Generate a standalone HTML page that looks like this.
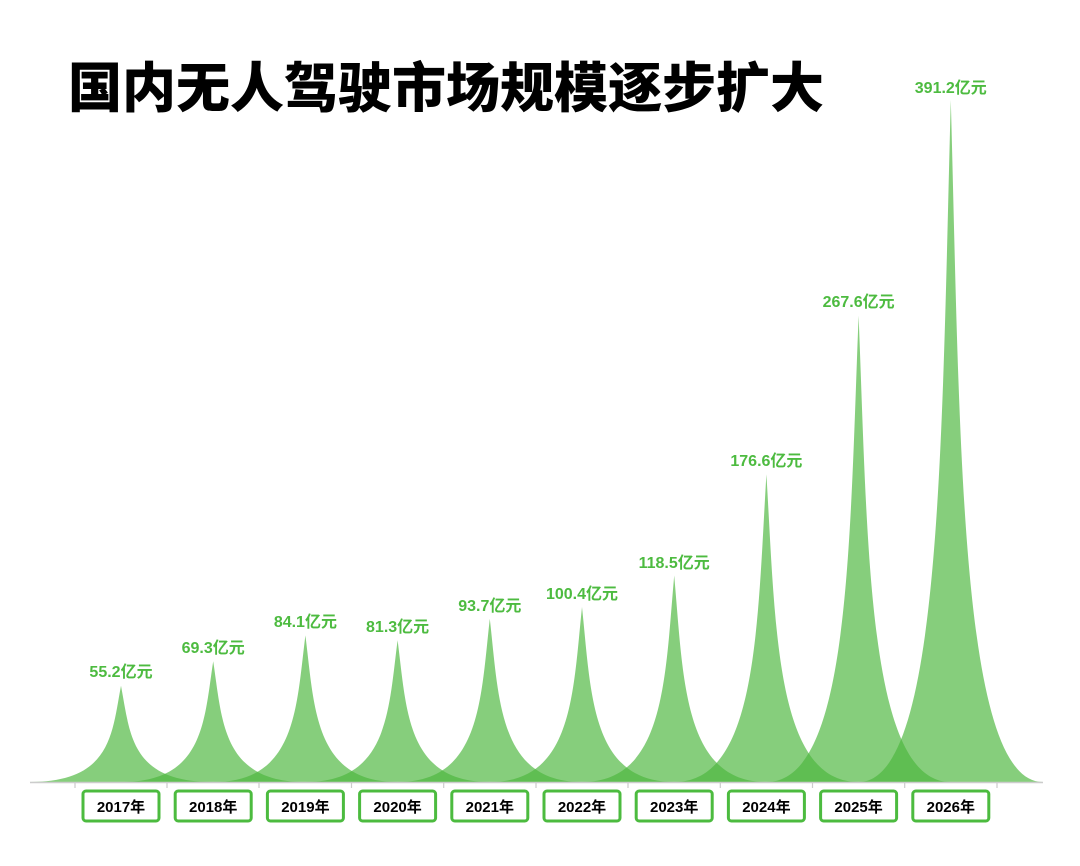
<!DOCTYPE html>
<html><head><meta charset="utf-8"><style>
html,body{margin:0;padding:0;background:#fff;width:1080px;height:866px;overflow:hidden}
svg{display:block}
.t{font-family:"Liberation Sans","Noto Sans CJK SC",sans-serif;font-weight:900;font-size:54px;letter-spacing:0px;fill:#000}
.v{font-family:"Liberation Sans","Noto Sans CJK SC",sans-serif;font-weight:bold;font-size:16px;fill:#4dbb40;text-anchor:middle}
.y{font-family:"Liberation Sans","Noto Sans CJK SC",sans-serif;font-weight:bold;font-size:15px;fill:#000;text-anchor:middle}
.p{fill:rgb(76,183,62);fill-opacity:0.68}
.b{fill:#fff;stroke:#4cbb3f;stroke-width:3}
</style></head><body>
<svg width="1080" height="866" viewBox="0 0 1080 866">
<text class="t" x="68" y="107">国内无人驾驶市场规模逐步扩大</text>
<g>
<path class="p" d="M29,782 L213,782 C130.2,782 130.2,733.9 121,685.8 C111.8,733.9 111.8,782 29,782Z"/>
<path class="p" d="M121.2,782 L305.2,782 C222.4,782 222.4,721.6 213.2,661.2 C204,721.6 204,782 121.2,782Z"/>
<path class="p" d="M213.4,782 L397.4,782 C314.6,782 314.6,708.7 305.4,635.4 C296.2,708.7 296.2,782 213.4,782Z"/>
<path class="p" d="M305.6,782 L489.6,782 C406.8,782 406.8,711.2 397.6,640.3 C388.4,711.2 388.4,782 305.6,782Z"/>
<path class="p" d="M397.8,782 L581.8,782 C499,782 499,700.4 489.8,618.7 C480.6,700.4 480.6,782 397.8,782Z"/>
<path class="p" d="M490,782 L674,782 C591.2,782 591.2,694.5 582,607 C572.8,694.5 572.8,782 490,782Z"/>
<path class="p" d="M582.2,782 L766.2,782 C683.4,782 683.4,678.8 674.2,575.5 C665,678.8 665,782 582.2,782Z"/>
<path class="p" d="M674.4,782 L858.4,782 C775.6,782 775.6,628.1 766.4,474.2 C757.2,628.1 757.2,782 674.4,782Z"/>
<path class="p" d="M766.6,782 L950.6,782 C867.8,782 867.8,548.8 858.6,315.6 C849.4,548.8 849.4,782 766.6,782Z"/>
<path class="p" d="M858.8,782 L1042.8,782 C960,782 960,441 950.8,100 C941.6,441 941.6,782 858.8,782Z"/>
</g>
<line x1="30" y1="782.5" x2="1043" y2="782.5" stroke="#ccc" stroke-width="1.5"/>
<g stroke="#ccc" stroke-width="1.2">
<line x1="75" y1="782" x2="75" y2="788"/><line x1="167" y1="782" x2="167" y2="788"/><line x1="259" y1="782" x2="259" y2="788"/><line x1="351.5" y1="782" x2="351.5" y2="788"/><line x1="443.7" y1="782" x2="443.7" y2="788"/><line x1="536" y1="782" x2="536" y2="788"/><line x1="628" y1="782" x2="628" y2="788"/><line x1="720.3" y1="782" x2="720.3" y2="788"/><line x1="812.5" y1="782" x2="812.5" y2="788"/><line x1="904.7" y1="782" x2="904.7" y2="788"/><line x1="997" y1="782" x2="997" y2="788"/>
</g>
<g>
<text class="v" x="121" y="677">55.2亿元</text>
<text class="v" x="213.2" y="653">69.3亿元</text>
<text class="v" x="305.4" y="627">84.1亿元</text>
<text class="v" x="397.6" y="632">81.3亿元</text>
<text class="v" x="489.8" y="611">93.7亿元</text>
<text class="v" x="582" y="599">100.4亿元</text>
<text class="v" x="674.2" y="568">118.5亿元</text>
<text class="v" x="766.4" y="466">176.6亿元</text>
<text class="v" x="858.6" y="307">267.6亿元</text>
<text class="v" x="950.8" y="93">391.2亿元</text>
</g>
<g>
<rect class="b" x="83" y="791" width="76" height="30" rx="3"/><text class="y" x="121" y="812">2017年</text>
<rect class="b" x="175.2" y="791" width="76" height="30" rx="3"/><text class="y" x="213.2" y="812">2018年</text>
<rect class="b" x="267.4" y="791" width="76" height="30" rx="3"/><text class="y" x="305.4" y="812">2019年</text>
<rect class="b" x="359.6" y="791" width="76" height="30" rx="3"/><text class="y" x="397.6" y="812">2020年</text>
<rect class="b" x="451.8" y="791" width="76" height="30" rx="3"/><text class="y" x="489.8" y="812">2021年</text>
<rect class="b" x="544" y="791" width="76" height="30" rx="3"/><text class="y" x="582" y="812">2022年</text>
<rect class="b" x="636.2" y="791" width="76" height="30" rx="3"/><text class="y" x="674.2" y="812">2023年</text>
<rect class="b" x="728.4" y="791" width="76" height="30" rx="3"/><text class="y" x="766.4" y="812">2024年</text>
<rect class="b" x="820.6" y="791" width="76" height="30" rx="3"/><text class="y" x="858.6" y="812">2025年</text>
<rect class="b" x="912.8" y="791" width="76" height="30" rx="3"/><text class="y" x="950.8" y="812">2026年</text>
</g>
</svg>
</body></html>
